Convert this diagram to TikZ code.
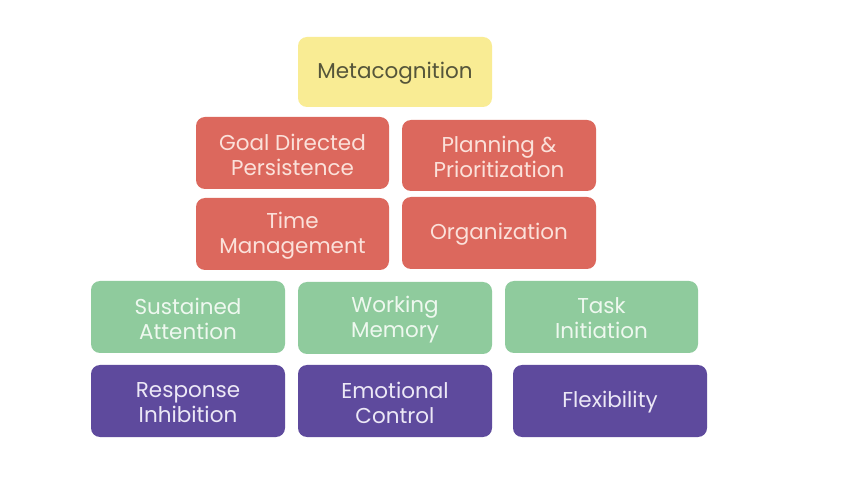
\documentclass[tikz,border=0pt]{standalone}
\usepackage{fontspec}
\setmainfont{Poppins}
\definecolor{metaY}{HTML}{F9EC94}
\definecolor{metaT}{HTML}{55553A}
\definecolor{redB}{HTML}{DC685D}
\definecolor{redT}{HTML}{FBE1DA}
\definecolor{greenB}{HTML}{8FCB9D}
\definecolor{greenT}{HTML}{EEF8EF}
\definecolor{purpB}{HTML}{5E4A9D}
\definecolor{purpT}{HTML}{ECE8F6}
\begin{document}
\begin{tikzpicture}[x=1pt,y=-1pt,
  box/.style={rounded corners=9pt, inner sep=0pt, align=center,
    font=\fontsize{21.5}{25}\selectfont},
  metabox/.style={box, fill=metaY, text=metaT},
  redbox/.style={box, fill=redB, text=redT},
  greenbox/.style={box, fill=greenB, text=greenT},
  purpbox/.style={box, fill=purpB, text=purpT}]
\useasboundingbox[fill=white] (0,0) rectangle (852,486);
\newcommand{\bx}[7]{% name, style, x1, y1, x2, y2, text
  \path[#2] (#3,#4) rectangle (#5,#6);
  \node[#2, fill=none] (#1) at ({(#3+#5)/2},{(#4+#6)/2+1.5}) {#7};}
\bx{meta}{metabox}{298}{37}{492}{107}{Metacognition}
\bx{goal}{redbox}{196}{117}{389}{189}{Goal Directed\\Persistence}
\bx{plan}{redbox}{402}{120}{596}{191}{Planning \&\\Prioritization}
\bx{time}{redbox}{196}{198}{389}{270}{Time\\Management}
\bx{org}{redbox}{402}{197}{596}{269}{Organization}
\bx{sust}{greenbox}{91}{281}{285}{353}{Sustained\\Attention}
\bx{work}{greenbox}{298}{282}{492}{354}{Working\\Memory}
\bx{task}{greenbox}{505}{281}{698}{353}{Task\\Initiation}
\bx{resp}{purpbox}{91}{365}{285}{437}{Response\\Inhibition}
\bx{emo}{purpbox}{298}{365}{492}{437}{Emotional\\Control}
\bx{flex}{purpbox}{513}{365}{707}{437}{Flexibility}
\end{tikzpicture}
\end{document}
